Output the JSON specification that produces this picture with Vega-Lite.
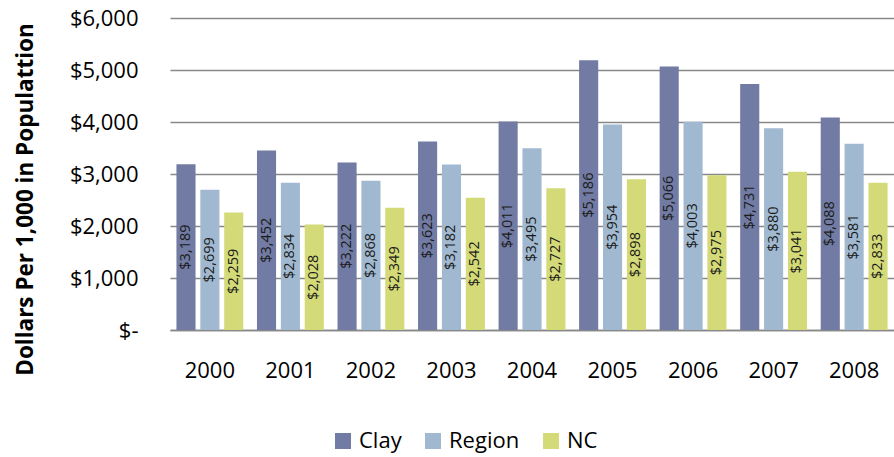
{
  "$schema": "https://vega.github.io/schema/vega-lite/v6.json",
  "width": 724,
  "height": 312,
  "autosize": {"type": "none"},
  "padding": {"left": 170, "top": 18, "right": 0, "bottom": 127},
  "config": {"view": {"stroke": null}, "font": "Open Sans"},
  "data": {"values": [
    {"year": "2000", "series": "Clay", "value": 3189},
    {"year": "2000", "series": "Region", "value": 2699},
    {"year": "2000", "series": "NC", "value": 2259},
    {"year": "2001", "series": "Clay", "value": 3452},
    {"year": "2001", "series": "Region", "value": 2834},
    {"year": "2001", "series": "NC", "value": 2028},
    {"year": "2002", "series": "Clay", "value": 3222},
    {"year": "2002", "series": "Region", "value": 2868},
    {"year": "2002", "series": "NC", "value": 2349},
    {"year": "2003", "series": "Clay", "value": 3623},
    {"year": "2003", "series": "Region", "value": 3182},
    {"year": "2003", "series": "NC", "value": 2542},
    {"year": "2004", "series": "Clay", "value": 4011},
    {"year": "2004", "series": "Region", "value": 3495},
    {"year": "2004", "series": "NC", "value": 2727},
    {"year": "2005", "series": "Clay", "value": 5186},
    {"year": "2005", "series": "Region", "value": 3954},
    {"year": "2005", "series": "NC", "value": 2898},
    {"year": "2006", "series": "Clay", "value": 5066},
    {"year": "2006", "series": "Region", "value": 4003},
    {"year": "2006", "series": "NC", "value": 2975},
    {"year": "2007", "series": "Clay", "value": 4731},
    {"year": "2007", "series": "Region", "value": 3880},
    {"year": "2007", "series": "NC", "value": 3041},
    {"year": "2008", "series": "Clay", "value": 4088},
    {"year": "2008", "series": "Region", "value": 3581},
    {"year": "2008", "series": "NC", "value": 2833}
  ]},
  "encoding": {
    "x": {"field": "year", "type": "nominal",
      "scale": {"paddingInner": 0.17, "paddingOuter": 0.08},
      "axis": {"title": null, "labelAngle": 0, "labelFontSize": 22, "labelColor": "#000", "labelPadding": 30,
        "ticks": false, "domainColor": "#888", "domainWidth": 1.5, "grid": false}},
    "xOffset": {"field": "series", "type": "nominal", "sort": ["Clay", "Region", "NC"],
      "scale": {"paddingInner": 0.2}}
  },
  "layer": [
    {
      "mark": {"type": "bar"},
      "encoding": {
        "y": {"field": "value", "type": "quantitative",
          "scale": {"domain": [0, 6000], "nice": false},
          "axis": {"title": "Dollars Per 1,000 in Populattion", "titleFontSize": 22.5, "titleFontWeight": "bold",
            "titleColor": "#000", "titleX": -145, "titleY": 181, "titleAngle": -90, "titleAlign": "center", "titleBaseline": "middle",
            "tickCount": 7, "labelFontSize": 22, "labelColor": "#000", "labelPadding": 32,
            "labelExpr": "datum.value == 0 ? '$-' : '$' + format(datum.value, ',')",
            "domain": false, "ticks": false,
            "gridColor": "#888", "gridWidth": 1.5}},
        "color": {"field": "series", "type": "nominal", "sort": ["Clay", "Region", "NC"],
          "scale": {"domain": ["Clay", "Region", "NC"], "range": ["#717ba3", "#a1b9d0", "#d4da78"]},
          "legend": {"title": null, "orient": "none", "direction": "horizontal", "legendX": 162, "legendY": 412,
            "symbolType": "square", "symbolSize": 256, "symbolStrokeWidth": 0, "labelFontSize": 22,
            "labelColor": "#000", "columnPadding": 20, "labelOffset": 5}}
      }
    },
    {
      "transform": [{"calculate": "datum.value / 2", "as": "mid"}],
      "mark": {"type": "text", "angle": -90, "fontSize": 14.5, "color": "#1a1a1a", "baseline": "middle", "align": "center"},
      "encoding": {
        "y": {"field": "mid", "type": "quantitative", "scale": {"domain": [0, 6000], "nice": false}},
        "text": {"field": "value", "type": "quantitative", "format": "$,"}
      }
    }
  ]
}
